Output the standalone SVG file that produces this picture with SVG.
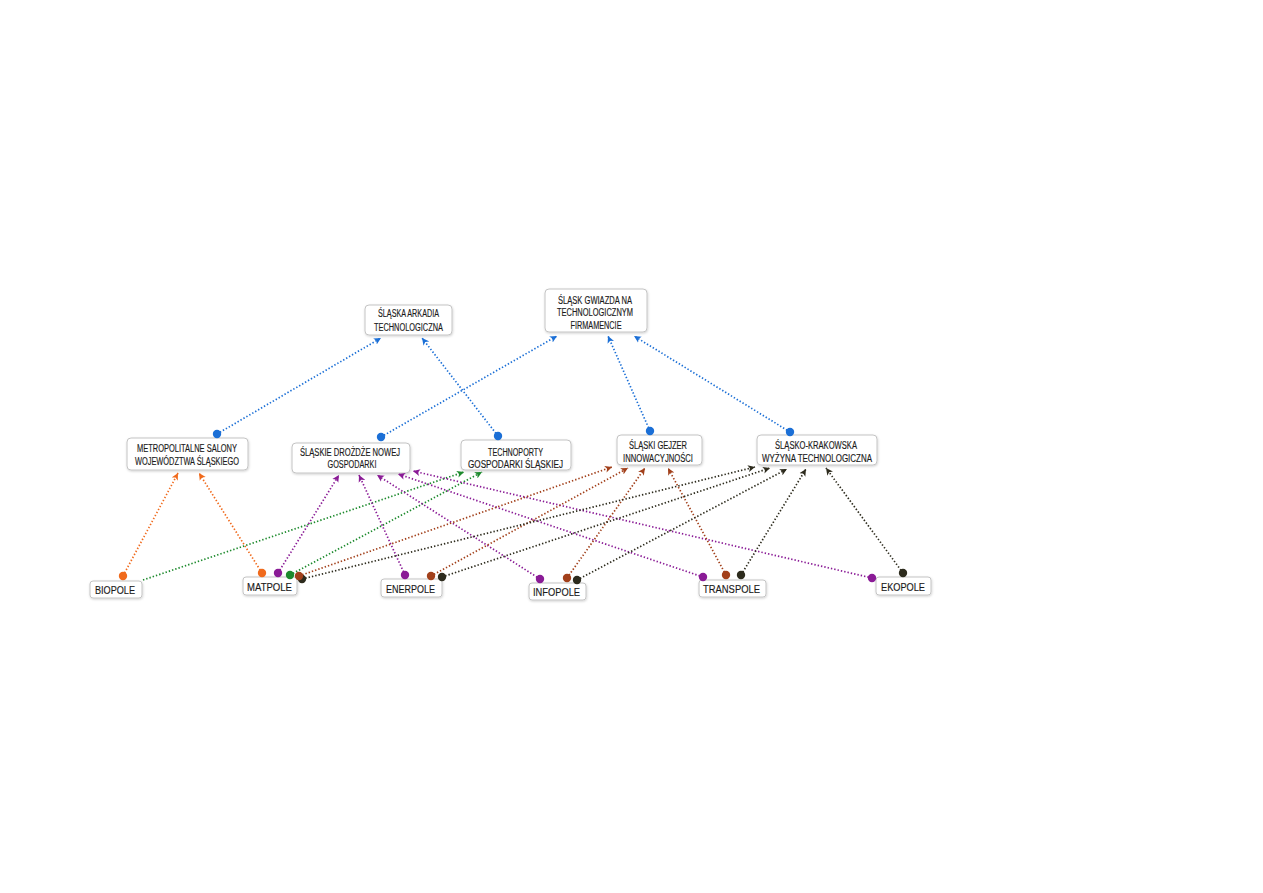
<svg xmlns="http://www.w3.org/2000/svg" width="1263" height="893" viewBox="0 0 1263 893">
<style>
.box{fill:#fff;stroke:#c4c4c4;stroke-width:1;filter:url(#sh)}
.t{font-family:"Liberation Sans",Arial,sans-serif;font-size:10px;fill:#1a1a1a;text-anchor:middle;stroke:#1a1a1a;stroke-width:0.15}
.b{font-size:11px}
.e{fill:none;stroke-width:1.7;stroke-dasharray:1.4 2;stroke-linecap:butt}
.blue{stroke:#1b6fd6}.orange{stroke:#f06a1c}.green{stroke:#1d8a2d}.purple{stroke:#8a1b96}.brown{stroke:#a2401b}.black{stroke:#2d2b1d}
</style>
<defs>
<filter id="sh" x="-10%" y="-20%" width="120%" height="150%"><feDropShadow dx="0.5" dy="1" stdDeviation="0.8" flood-color="#000" flood-opacity="0.18"/></filter>
<marker id="aBlue" markerUnits="userSpaceOnUse" markerWidth="8" markerHeight="8" refX="7" refY="4" orient="auto"><path d="M0,0.5 L7,4 L0,7.5 L1.8,4 z" fill="#1b6fd6"/></marker>
<marker id="aOrange" markerUnits="userSpaceOnUse" markerWidth="8" markerHeight="8" refX="7" refY="4" orient="auto"><path d="M0,0.5 L7,4 L0,7.5 L1.8,4 z" fill="#f06a1c"/></marker>
<marker id="aGreen" markerUnits="userSpaceOnUse" markerWidth="8" markerHeight="8" refX="7" refY="4" orient="auto"><path d="M0,0.5 L7,4 L0,7.5 L1.8,4 z" fill="#1d8a2d"/></marker>
<marker id="aPurple" markerUnits="userSpaceOnUse" markerWidth="8" markerHeight="8" refX="7" refY="4" orient="auto"><path d="M0,0.5 L7,4 L0,7.5 L1.8,4 z" fill="#8a1b96"/></marker>
<marker id="aBrown" markerUnits="userSpaceOnUse" markerWidth="8" markerHeight="8" refX="7" refY="4" orient="auto"><path d="M0,0.5 L7,4 L0,7.5 L1.8,4 z" fill="#a2401b"/></marker>
<marker id="aBlack" markerUnits="userSpaceOnUse" markerWidth="8" markerHeight="8" refX="7" refY="4" orient="auto"><path d="M0,0.5 L7,4 L0,7.5 L1.8,4 z" fill="#2d2b1d"/></marker>
</defs>
<rect width="1263" height="893" fill="#fff"/>

<g id="n-arkadia"><rect class="box" x="365" y="305" width="87" height="30" rx="4"/>
<text class="t" x="408.5" y="317" textLength="61" lengthAdjust="spacingAndGlyphs">ŚLĄSKA ARKADIA</text>
<text class="t" x="408.5" y="330.5" textLength="69" lengthAdjust="spacingAndGlyphs">TECHNOLOGICZNA</text></g>

<g id="n-gwiazda"><rect class="box" x="545" y="289" width="102" height="43" rx="4"/>
<text class="t" x="595" y="303.5" textLength="74" lengthAdjust="spacingAndGlyphs">ŚLĄSK GWIAZDA NA</text>
<text class="t" x="595" y="316" textLength="76" lengthAdjust="spacingAndGlyphs">TECHNOLOGICZNYM</text>
<text class="t" x="596" y="328.5" textLength="51" lengthAdjust="spacingAndGlyphs">FIRMAMENCIE</text></g>

<g id="n-metropolitalne"><rect class="box" x="127" y="438" width="121" height="32" rx="4"/>
<text class="t" x="187" y="451.5" textLength="100" lengthAdjust="spacingAndGlyphs">METROPOLITALNE SALONY</text>
<text class="t" x="187" y="465" textLength="104" lengthAdjust="spacingAndGlyphs">WOJEWÓDZTWA ŚLĄSKIEGO</text></g>

<g id="n-drozdze"><rect class="box" x="292" y="443" width="118" height="30" rx="4"/>
<text class="t" x="350" y="455.5" textLength="100" lengthAdjust="spacingAndGlyphs">ŚLĄSKIE DROŻDŻE NOWEJ</text>
<text class="t" x="352" y="468" textLength="49" lengthAdjust="spacingAndGlyphs">GOSPODARKI</text></g>

<g id="n-technoporty"><rect class="box" x="461" y="440" width="110" height="30" rx="4"/>
<text class="t" x="515.5" y="456" textLength="55" lengthAdjust="spacingAndGlyphs">TECHNOPORTY</text>
<text class="t" x="515.5" y="467.5" textLength="95" lengthAdjust="spacingAndGlyphs">GOSPODARKI ŚLĄSKIEJ</text></g>

<g id="n-gejzer"><rect class="box" x="617" y="435" width="85" height="30" rx="4"/>
<text class="t" x="658" y="449" textLength="58" lengthAdjust="spacingAndGlyphs">ŚLĄSKI GEJZER</text>
<text class="t" x="658" y="461.5" textLength="70" lengthAdjust="spacingAndGlyphs">INNOWACYJNOŚCI</text></g>

<g id="n-krakowska"><rect class="box" x="757" y="435" width="120" height="30" rx="4"/>
<text class="t" x="816" y="449" textLength="82" lengthAdjust="spacingAndGlyphs">ŚLĄSKO-KRAKOWSKA</text>
<text class="t" x="817" y="461.5" textLength="110" lengthAdjust="spacingAndGlyphs">WYŻYNA TECHNOLOGICZNA</text></g>

<g id="n-biopole"><rect class="box" x="90" y="581" width="52" height="17" rx="3"/>
<text class="t b" x="115" y="593.5" textLength="40" lengthAdjust="spacingAndGlyphs">BIOPOLE</text></g>
<g id="n-matpole"><rect class="box" x="243" y="577" width="54" height="18" rx="3"/>
<text class="t b" x="269.5" y="590.5" textLength="45" lengthAdjust="spacingAndGlyphs">MATPOLE</text></g>
<g id="n-enerpole"><rect class="box" x="381" y="579" width="61" height="18" rx="3"/>
<text class="t b" x="410.5" y="592.5" textLength="49" lengthAdjust="spacingAndGlyphs">ENERPOLE</text></g>
<g id="n-infopole"><rect class="box" x="529" y="583" width="57" height="17" rx="3"/>
<text class="t b" x="556.5" y="595.5" textLength="47" lengthAdjust="spacingAndGlyphs">INFOPOLE</text></g>
<g id="n-transpole"><rect class="box" x="699" y="580" width="67" height="17" rx="3"/>
<text class="t b" x="731.5" y="592.5" textLength="57" lengthAdjust="spacingAndGlyphs">TRANSPOLE</text></g>
<g id="n-ekopole"><rect class="box" x="876" y="577" width="55" height="18" rx="3"/>
<text class="t b" x="903" y="590.5" textLength="44" lengthAdjust="spacingAndGlyphs">EKOPOLE</text></g>

<g id="connectors">
<g marker-end="url(#aBlue)">
<line class="e blue" x1="217" y1="434" x2="381" y2="338"/>
<line class="e blue" x1="498" y1="436" x2="422" y2="338"/>
<line class="e blue" x1="381" y1="437" x2="557" y2="336"/>
<line class="e blue" x1="650" y1="431" x2="608" y2="336"/>
<line class="e blue" x1="790" y1="432" x2="634" y2="336"/>
</g>
<g marker-end="url(#aOrange)">
<line class="e orange" x1="123" y1="576" x2="178" y2="473"/>
<line class="e orange" x1="262" y1="573" x2="199" y2="473"/>
</g>
<g marker-end="url(#aGreen)">
<line class="e green" x1="143" y1="580" x2="464" y2="472"/>
<line class="e green" x1="290" y1="575" x2="482" y2="472"/>
</g>
<g marker-end="url(#aPurple)">
<line class="e purple" x1="278" y1="573" x2="339" y2="475"/>
<line class="e purple" x1="405" y1="575" x2="359" y2="475"/>
<line class="e purple" x1="540" y1="579" x2="377" y2="475"/>
<line class="e purple" x1="703" y1="577" x2="398" y2="474"/>
<line class="e purple" x1="872" y1="578" x2="413" y2="471"/>
</g>
<g marker-end="url(#aBrown)">
<line class="e brown" x1="299" y1="576" x2="612" y2="467"/>
<line class="e brown" x1="431" y1="576" x2="628" y2="468"/>
<line class="e brown" x1="567" y1="578" x2="645" y2="468"/>
<line class="e brown" x1="726" y1="575" x2="668" y2="468"/>
</g>
<g marker-end="url(#aBlack)">
<line class="e black" x1="302" y1="579" x2="755" y2="467"/>
<line class="e black" x1="442" y1="577" x2="770" y2="468"/>
<line class="e black" x1="577" y1="580" x2="787" y2="469"/>
<line class="e black" x1="741" y1="575" x2="806" y2="469"/>
<line class="e black" x1="903" y1="573" x2="826" y2="468"/>
</g>
<g id="dots">
<circle cx="217" cy="434" r="4.2" fill="#1b6fd6"/>
<circle cx="498" cy="436" r="4.2" fill="#1b6fd6"/>
<circle cx="381" cy="437" r="4.2" fill="#1b6fd6"/>
<circle cx="650" cy="431" r="4.2" fill="#1b6fd6"/>
<circle cx="790" cy="432" r="4.2" fill="#1b6fd6"/>
<circle cx="123" cy="576" r="4.2" fill="#f06a1c"/>
<circle cx="262" cy="573" r="4.2" fill="#f06a1c"/>
<circle cx="290" cy="575" r="4.2" fill="#1d8a2d"/>
<circle cx="278" cy="573" r="4.2" fill="#8a1b96"/>
<circle cx="405" cy="575" r="4.2" fill="#8a1b96"/>
<circle cx="540" cy="579" r="4.2" fill="#8a1b96"/>
<circle cx="703" cy="577" r="4.2" fill="#8a1b96"/>
<circle cx="872" cy="578" r="4.2" fill="#8a1b96"/>
<circle cx="302" cy="579" r="4.2" fill="#2d2b1d"/>
<circle cx="299" cy="576" r="4.2" fill="#a2401b"/>
<circle cx="431" cy="576" r="4.2" fill="#a2401b"/>
<circle cx="567" cy="578" r="4.2" fill="#a2401b"/>
<circle cx="726" cy="575" r="4.2" fill="#a2401b"/>
<circle cx="442" cy="577" r="4.2" fill="#2d2b1d"/>
<circle cx="577" cy="580" r="4.2" fill="#2d2b1d"/>
<circle cx="741" cy="575" r="4.2" fill="#2d2b1d"/>
<circle cx="903" cy="573" r="4.2" fill="#2d2b1d"/>
</g>
</g>
</svg>
